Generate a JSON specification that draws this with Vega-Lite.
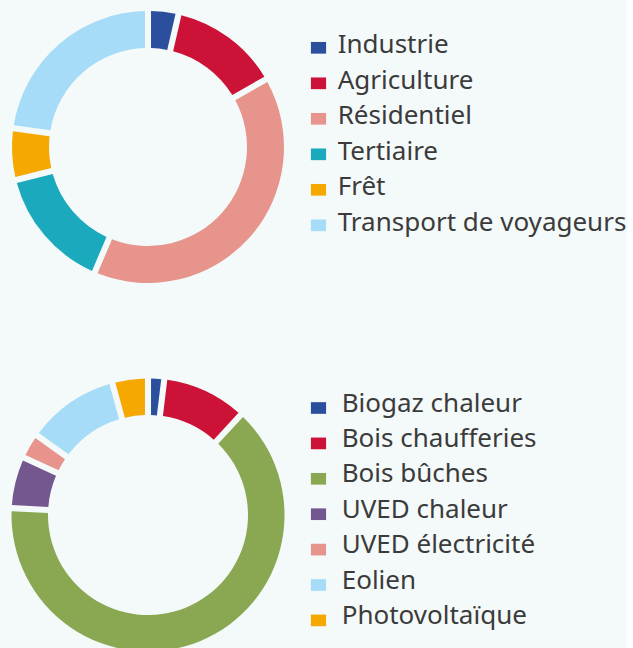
{
  "$schema": "https://vega.github.io/schema/vega-lite/v6.json",
  "padding": 0,
  "background": "#f4f9fa",
  "spacing": 88,
  "bounds": "flush",
  "datasets": {
    "conso": [
      {"secteur": "Industrie", "part": 3.6, "ordre": 1},
      {"secteur": "Agriculture", "part": 13.1, "ordre": 2},
      {"secteur": "Résidentiel", "part": 39.7, "ordre": 3},
      {"secteur": "Tertiaire", "part": 14.7, "ordre": 4},
      {"secteur": "Frêt", "part": 6.1, "ordre": 5},
      {"secteur": "Transport de voyageurs", "part": 22.8, "ordre": 6}
    ],
    "prod": [
      {"filiere": "Biogaz chaleur", "part": 1.9, "ordre": 1},
      {"filiere": "Bois chaufferies", "part": 10.0, "ordre": 2},
      {"filiere": "Bois bûches", "part": 63.9, "ordre": 3},
      {"filiere": "UVED chaleur", "part": 6.1, "ordre": 4},
      {"filiere": "UVED électricité", "part": 3.0, "ordre": 5},
      {"filiere": "Eolien", "part": 10.9, "ordre": 6},
      {"filiere": "Photovoltaïque", "part": 4.2, "ordre": 7}
    ]
  },
  "vconcat": [
    {
      "width": 296,
      "height": 294,
      "data": {"name": "conso"},
      "mark": {"type": "arc", "outerRadius": 136, "innerRadius": 99, "padAngle": 0.036},
      "encoding": {
        "theta": {"field": "part", "type": "quantitative", "stack": true},
        "order": {"field": "ordre", "type": "quantitative"},
        "color": {
          "field": "secteur",
          "type": "nominal",
          "sort": ["Industrie", "Agriculture", "Résidentiel", "Tertiaire", "Frêt", "Transport de voyageurs"],
          "scale": {
            "domain": ["Industrie", "Agriculture", "Résidentiel", "Tertiaire", "Frêt", "Transport de voyageurs"],
            "range": ["#2b4f9d", "#cc1236", "#e6948c", "#1ba9be", "#f5a800", "#a6dcf7"]
          },
          "legend": {
            "title": null,
            "orient": "none",
            "legendX": 305.5,
            "legendY": 34.8,
            "padding": 0,
            "symbolType": "M-1,-0.77H1V0.77H-1Z",
            "symbolSize": 230,
            "symbolStrokeWidth": 0,
            "symbolOpacity": 1,
            "labelFont": "Noto Sans",
            "labelFontSize": 26,
            "labelColor": "#3b3b3b",
            "labelOffset": 6.2,
            "labelBaseline": "alphabetic",
            "labelLimit": 400,
            "rowPadding": 8.5,
            "encode": {"labels": {"update": {"dy": {"value": 5.5}}}}
          }
        }
      }
    },
    {
      "width": 296,
      "height": 266,
      "data": {"name": "prod"},
      "mark": {"type": "arc", "outerRadius": 136.5, "innerRadius": 100, "padAngle": 0.036},
      "encoding": {
        "theta": {"field": "part", "type": "quantitative", "stack": true},
        "order": {"field": "ordre", "type": "quantitative"},
        "color": {
          "field": "filiere",
          "type": "nominal",
          "sort": ["Biogaz chaleur", "Bois chaufferies", "Bois bûches", "UVED chaleur", "UVED électricité", "Eolien", "Photovoltaïque"],
          "scale": {
            "domain": ["Biogaz chaleur", "Bois chaufferies", "Bois bûches", "UVED chaleur", "UVED électricité", "Eolien", "Photovoltaïque"],
            "range": ["#2b4f9d", "#cc1236", "#8aa852", "#74578f", "#e6948c", "#a6dcf7", "#f5a800"]
          },
          "legend": {
            "title": null,
            "orient": "none",
            "legendX": 305.5,
            "legendY": 13,
            "padding": 0,
            "symbolType": "M-1,-0.77H1V0.77H-1Z",
            "symbolSize": 230,
            "symbolStrokeWidth": 0,
            "symbolOpacity": 1,
            "labelFont": "Noto Sans",
            "labelFontSize": 26,
            "labelColor": "#3b3b3b",
            "labelOffset": 10.2,
            "labelBaseline": "alphabetic",
            "labelLimit": 400,
            "rowPadding": 8.4,
            "encode": {"labels": {"update": {"dy": {"value": 3.5}}}}
          }
        }
      }
    }
  ],
  "resolve": {"scale": {"color": "independent"}, "legend": {"color": "independent"}},
  "config": {"view": {"stroke": null}}
}
